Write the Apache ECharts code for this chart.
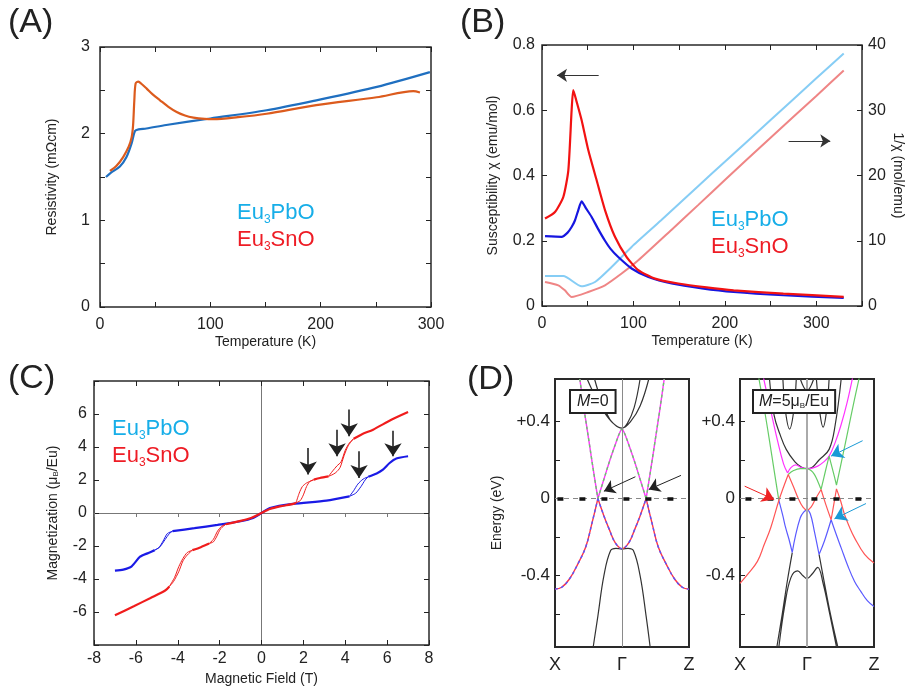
<!DOCTYPE html>
<html>
<head>
<meta charset="utf-8">
<script src="https://cdn.jsdelivr.net/npm/echarts@6.0.0/dist/echarts.min.js"></script>
<style>
  html, body { margin: 0; padding: 0; background: #fff; }
  #chart { width: 907px; height: 690px; }
</style>
</head>
<body>
<div id="chart"></div>
<script>
// ---- (A) resistivity ----
const rhoPbT = [5.4, 10, 18, 24, 28.7, 31.7, 35, 42, 60, 100, 151, 196, 251, 299];
const rhoPb = [1.50, 1.55, 1.62, 1.73, 1.89, 2.03, 2.05, 2.06, 2.10, 2.175, 2.27, 2.385, 2.54, 2.71];
const rhoSnT = [9, 15, 21, 26, 28.7, 30, 31.1, 32.3, 34.7, 38, 42.3, 48, 54.4, 62, 69.5, 77, 84.6, 95, 102.7, 125, 151, 196, 250.8, 284, 290];
const rhoSn = [1.57, 1.63, 1.73, 1.85, 1.96, 2.1, 2.38, 2.58, 2.60, 2.57, 2.52, 2.45, 2.385, 2.31, 2.25, 2.21, 2.186, 2.17, 2.167, 2.19, 2.23, 2.33, 2.42, 2.49, 2.475];

// ---- (B) susceptibility and 1/chi ----
const chiSnT = [3.3, 14.2, 23.3, 28.8, 32.4, 34.2, 38, 43.3, 50.6, 59.7, 68.9, 79.8, 92.6, 105.3, 123.6, 149, 180, 209.6, 264, 330];
const chiSn = [0.268, 0.288, 0.334, 0.416, 0.60, 0.662, 0.625, 0.57, 0.478, 0.386, 0.294, 0.212, 0.150, 0.11, 0.084, 0.069, 0.057, 0.048, 0.038, 0.028];
const chiPbT = [3.3, 21.4, 28, 32.4, 36, 39.7, 43.3, 48, 54.3, 61, 68.9, 75, 83.4, 98, 116.3, 141.8, 175, 209.6, 264, 330];
const chiPb = [0.214, 0.212, 0.225, 0.242, 0.262, 0.294, 0.321, 0.30, 0.273, 0.238, 0.2, 0.175, 0.15, 0.115, 0.089, 0.069, 0.054, 0.043, 0.033, 0.025];
const invPbT = [3.3, 23.3, 43.3, 58, 76.1, 98, 130, 171, 200, 250, 300, 330];
const invPb = [4.6, 4.6, 3.02, 3.68, 5.98, 9.05, 13.1, 18.4, 22.1, 28.5, 34.9, 38.7];
const invSnT = [3.3, 17.8, 25, 32.4, 50.6, 68.9, 87.1, 105.3, 141.8, 171, 200, 250, 300, 330];
const invSn = [3.68, 3.17, 2.4, 1.38, 2.15, 3.17, 4.97, 7.0, 11.7, 15.5, 19.3, 25.8, 32.2, 36.1];
const bArrowChi = [[62, 0.707], [16.4, 0.707]];
const bArrowInv = [[269.7, 25.3], [315.3, 25.3]];

// ---- (C) magnetization, [field, M] ----
const GAP = [null, null];
const pbMain = [
  [-7, -3.49], [-6.6, -3.43], [-6.2, -3.23], [-5.8, -2.65], [-5.4, -2.42], [-5.1, -2.25], GAP,
  [-4.25, -1.1], [-3.2, -0.92], [-2.1, -0.72], [-1.0, -0.5], [-0.4, -0.3], [0, 0],
  [0.4, 0.3], [1.5, 0.55], [3.1, 0.75], [4.2, 1.01], GAP,
  [5.1, 2.2], [5.5, 2.4], [5.8, 2.63], [6.12, 3.03], [6.44, 3.3], [7, 3.44]
];
const pbLoops = [
  [-5.1, -2.25], [-4.85, -2.05], [-4.6, -1.6], [-4.4, -1.25], [-4.25, -1.1],
  [-4.5, -1.25], [-4.7, -1.7], [-4.9, -2.1], [-5.1, -2.25], GAP,
  [4.2, 1.01], [4.4, 1.35], [4.6, 1.75], [4.85, 2.05], [5.1, 2.2],
  [4.95, 2.0], [4.75, 1.6], [4.5, 1.2], [4.2, 1.01]
];
const snMain = [
  [-7, -6.2], [-6.1, -5.65], [-5.3, -5.15], [-4.6, -4.7], [-4.4, -4.45], GAP,
  [-3.3, -2.25], [-2.9, -2.07], [-2.5, -1.85], GAP,
  [-1.7, -0.68], [-1.0, -0.48], [-0.5, -0.3], [0, 0],
  [0.4, 0.24], [0.88, 0.4], [1.52, 0.55], [1.65, 0.62], GAP,
  [2.5, 2.02], [2.79, 2.12], [3.2, 2.22], GAP,
  [4.4, 4.5], [4.8, 4.78], [5.33, 5.05], [6.2, 5.65], [7, 6.12]
];
const snLoops = [
  [-4.4, -4.45], [-4.15, -3.9], [-3.95, -3.25], [-3.75, -2.75], [-3.55, -2.4], [-3.3, -2.25],
  [-3.55, -2.55], [-3.75, -2.9], [-3.95, -3.55], [-4.2, -4.15], [-4.4, -4.45], GAP,
  [-2.5, -1.85], [-2.3, -1.6], [-2.1, -1.1], [-1.9, -0.8], [-1.7, -0.68],
  [-1.95, -0.95], [-2.15, -1.45], [-2.3, -1.75], [-2.5, -1.85], GAP,
  [1.65, 0.62], [1.8, 1.2], [1.95, 1.6], [2.15, 1.82], [2.5, 2.02],
  [2.3, 1.9], [2.15, 1.6], [2.0, 1.1], [1.85, 0.75], [1.65, 0.62], GAP,
  [3.2, 2.22], [3.4, 2.55], [3.6, 2.85], [3.8, 3.1], [4.0, 3.8], [4.2, 4.25], [4.4, 4.5],
  [4.15, 4.1], [3.95, 3.5], [3.75, 2.75], [3.55, 2.45], [3.35, 2.3], [3.2, 2.22]
];
const cArrowH = [2.23, 3.61, 4.19, 4.66, 6.28];
const cArrowTail = [3.94, 5.05, 6.27, 3.74, 4.99];
const cArrowHead = [2.33, 3.44, 4.65, 2.12, 3.44];

// ---- (D) bands, [k, E]  (X = -1, Gamma = 0, Z = 1) ----
const m0Upper = [
  [-0.63, 0.62], [-0.56, 0.45], [-0.49, 0.29], [-0.42, 0.13], [-0.36, 0], GAP,
  [-0.36, 0], [-0.27, 0.1], [-0.18, 0.2], [-0.09, 0.29], [-0.03, 0.345], [0, 0.36],
  [0.03, 0.345], [0.09, 0.29], [0.18, 0.2], [0.27, 0.1], [0.36, 0], GAP,
  [0.36, 0], [0.42, 0.13], [0.49, 0.29], [0.56, 0.45], [0.63, 0.62]
];
const m0Lower = [
  [-1, -0.47], [-0.9, -0.46], [-0.79, -0.42], [-0.66, -0.34], [-0.54, -0.25], [-0.45, -0.13], [-0.36, 0], GAP,
  [-0.36, 0], [-0.27, -0.09], [-0.19, -0.16], [-0.1, -0.23], [0, -0.26], [0.1, -0.23], [0.19, -0.16], [0.27, -0.09], [0.36, 0], GAP,
  [0.36, 0], [0.45, -0.13], [0.54, -0.25], [0.66, -0.34], [0.79, -0.42], [0.9, -0.46], [1, -0.47]
];
const m0Black = [
  [-0.52, 0.62], [-0.4, 0.53], [-0.27, 0.45], [-0.13, 0.39], [0, 0.365], [0.13, 0.4], [0.27, 0.48], [0.4, 0.62], GAP,
  [-0.41, 0.62], [-0.3, 0.5], [-0.18, 0.41], [-0.08, 0.375], [0, 0.365], [0.08, 0.39], [0.18, 0.47], [0.27, 0.62], GAP,
  [-0.43, -0.77], [-0.36, -0.61], [-0.27, -0.4], [-0.17, -0.27], [-0.09, -0.258], [0, -0.262],
  [0.09, -0.258], [0.17, -0.27], [0.27, -0.4], [0.36, -0.61], [0.42, -0.77]
];
const m0Arrows = [[[0.2, 0.113], [-0.27, 0.038]], [[0.88, 0.12], [0.4, 0.047]]];

const m5Red = [
  [-1, -0.44], [-0.89, -0.395], [-0.74, -0.326], [-0.64, -0.24], [-0.54, -0.15], [-0.42, -0.01], [-0.35, 0.06], [-0.28, 0.125], GAP,
  [-0.28, 0.125], [-0.2, 0.06], [-0.13, 0.0], [-0.06, -0.045], [0, -0.06], [0.06, -0.045], [0.13, 0.0], [0.21, 0.047], GAP,
  [0.21, 0.047], [0.28, -0.03], [0.36, -0.11], GAP,
  [0.36, -0.11], [0.4, -0.03], [0.44, 0.05], GAP,
  [0.44, 0.05], [0.5, -0.01], [0.56, -0.083], [0.63, -0.145], [0.71, -0.204], [0.86, -0.29], [1, -0.334]
];
const m5Blue = [
  [-0.42, -0.01], [-0.36, -0.09], [-0.32, -0.15], [-0.27, -0.21], [-0.22, -0.28], GAP,
  [-0.22, -0.28], [-0.17, -0.19], [-0.1, -0.1], [-0.05, -0.07], [0, -0.06], [0.05, -0.08], [0.11, -0.17], [0.18, -0.29], GAP,
  [0.18, -0.29], [0.26, -0.22], [0.36, -0.11], GAP,
  [0.36, -0.11], [0.43, -0.18], [0.51, -0.256], [0.61, -0.35], [0.71, -0.43], [0.8, -0.48], [0.9, -0.53], [1, -0.56]
];
const m5Green = [
  [-0.72, 0.627], [-0.63, 0.45], [-0.56, 0.3], [-0.49, 0.145], [-0.42, -0.01], GAP,
  [-0.28, 0.125], [-0.2, 0.145], [-0.1, 0.155], [0, 0.155], [0.06, 0.145], [0.11, 0.125], [0.16, 0.09], [0.21, 0.047], GAP,
  [0.21, 0.047], [0.27, 0.135], [0.33, 0.22], GAP,
  [0.33, 0.22], [0.39, 0.14], [0.44, 0.07], GAP,
  [0.44, 0.07], [0.52, 0.2], [0.61, 0.35], [0.7, 0.5], [0.78, 0.627]
];
const m5Pink = [
  [-0.65, 0.627], [-0.55, 0.47], [-0.44, 0.3], [-0.35, 0.18], [-0.29, 0.133], GAP,
  [-0.29, 0.133], [-0.24, 0.16], [-0.17, 0.175], [-0.08, 0.16], [0, 0.155], [0.08, 0.158], [0.16, 0.168],
  [0.25, 0.19], [0.33, 0.22], [0.42, 0.29], [0.51, 0.384], [0.6, 0.5], [0.68, 0.627]
];
const m5Black = [
  [-0.56, 0.62], [-0.49, 0.43], [-0.4, 0.33], [-0.31, 0.255], [-0.18, 0.19], [-0.08, 0.162], [0, 0.155],
  [0.08, 0.162], [0.18, 0.2], [0.33, 0.255], [0.42, 0.38], [0.51, 0.62], GAP,
  [-0.36, 0.62], [-0.32, 0.45], [-0.26, 0.36], [-0.2, 0.45], [-0.16, 0.62], GAP,
  [0.14, 0.62], [0.19, 0.45], [0.24, 0.37], [0.29, 0.45], [0.33, 0.62], GAP,
  [-0.1, 0.62], [0, 0.56], [0.1, 0.62], GAP,
  [-0.42, -0.77], [-0.33, -0.55], [-0.24, -0.41], [-0.14, -0.375], [-0.06, -0.4], [0, -0.415],
  [0.08, -0.39], [0.16, -0.357], [0.24, -0.44], [0.34, -0.6], [0.44, -0.77], GAP,
  [-0.22, -0.28], [-0.29, -0.42], [-0.37, -0.6], [-0.45, -0.77], GAP,
  [0.18, -0.29], [0.25, -0.42], [0.35, -0.6], [0.46, -0.77]
];
const m5RedArrow = [[[-0.93, 0.064], [-0.49, -0.005]]];
const m5BlueArrows = [[[0.83, 0.30], [0.36, 0.22]], [[0.88, -0.026], [0.41, -0.105]]];

const kLabels = { '-1': 'X', '0': 'Γ', '1': 'Z' };

const FONT = 'Liberation Sans, Arial, Helvetica, sans-serif';
const INK = '#222';
const CYAN = '#17aee8';
const RED = '#ee1c25';

const zip = (a, b) => a.map((v, i) => [v, b[i]]);

function mkAxis(o) {
  return {
    type: 'value', gridIndex: o.grid, position: o.pos, min: o.min, max: o.max, interval: o.interval,
    offset: o.offset || 0,
    name: o.name || '', nameLocation: 'middle', nameGap: o.nameGap, nameRotate: o.nameRotate,
    nameTextStyle: { color: INK, fontSize: 14, fontFamily: FONT, rich: o.rich },
    axisLine: { show: !!o.line, onZero: false, lineStyle: { color: o.line || INK, width: 1 } },
    axisTick: {
      show: o.tick !== false, inside: !o.tickOut, length: o.tickLen || 5,
      lineStyle: { color: o.tickColor || INK, width: 1 }, customValues: o.tickValues
    },
    axisLabel: {
      show: !!o.label, color: INK, fontSize: o.fontSize || 16, fontFamily: FONT, margin: o.margin || 8,
      formatter: o.label, customValues: o.labelValues, showMinLabel: true, showMaxLabel: true
    },
    splitLine: { show: false }
  };
}

function line(data, xi, yi, color, width, extra) {
  return Object.assign({
    type: 'line', data: data, xAxisIndex: xi, yAxisIndex: yi,
    showSymbol: false, symbol: 'none', smooth: 0.3, connectNulls: false, silent: true,
    lineStyle: { color: color, width: width }
  }, extra || {});
}

function arrows(pairs, color, width, size) {
  return {
    silent: true, symbol: ['none', 'arrow'], symbolSize: size, label: { show: false },
    lineStyle: { color: color, width: width, type: 'solid' }, animation: false,
    data: pairs.map(p => [{ coord: p[0] }, { coord: p[1] }])
  };
}

function legendText(left, top, name) {
  return [
    { type: 'text', left: left, top: top, z: 100,
      style: { text: '{a|Eu}{s|3}{a|' + name[0] + '}', rich: {
        a: { fontSize: 22, fontFamily: FONT, fill: CYAN, color: CYAN, lineHeight: 26 },
        s: { fontSize: 12, fontFamily: FONT, fill: CYAN, color: CYAN, lineHeight: 12, verticalAlign: 'bottom' } } } },
    { type: 'text', left: left, top: top + 27, z: 100,
      style: { text: '{a|Eu}{s|3}{a|' + name[1] + '}', rich: {
        a: { fontSize: 22, fontFamily: FONT, fill: RED, color: RED, lineHeight: 26 },
        s: { fontSize: 12, fontFamily: FONT, fill: RED, color: RED, lineHeight: 12, verticalAlign: 'bottom' } } } }
  ];
}

const hundreds = v => (v % 100 === 0 ? String(v) : '');
const integers = v => (Number.isInteger(v) ? String(v) : '');
const eLabel = v => (v > 0 ? '+0.4' : (v < 0 ? '-0.4' : '0'));
const kLabel = v => kLabels[String(Math.round(v))] || '';
const dTicks = [-0.6, -0.4, -0.2, 0, 0.2, 0.4];

const frame = (left, top, width, height, bw) => ({
  left: left, top: top, width: width, height: height, show: true,
  borderColor: '#2a2a2a', borderWidth: bw, backgroundColor: 'transparent'
});

const chart = echarts.init(document.getElementById('chart'));

const option = {
  animation: false,
  backgroundColor: '#fff',
  grid: [
    frame(100, 47, 331, 260, 1.5),
    frame(542, 45, 320, 261, 1.5),
    frame(94, 381, 335, 264, 1.5),
    frame(555, 379, 134, 268, 2),
    frame(740, 379, 134, 268, 2)
  ],
  xAxis: [
    mkAxis({ grid: 0, pos: 'bottom', min: 0, max: 300, interval: 50, label: hundreds, margin: 10, name: 'Temperature (K)', nameGap: 28 }),
    mkAxis({ grid: 0, pos: 'top', min: 0, max: 300, interval: 50 }),
    mkAxis({ grid: 1, pos: 'bottom', min: 0, max: 350, interval: 50, label: hundreds, margin: 10, name: 'Temperature (K)', nameGap: 28 }),
    mkAxis({ grid: 1, pos: 'top', min: 0, max: 350, interval: 50 }),
    mkAxis({ grid: 2, pos: 'bottom', min: -8, max: 8, interval: 2, label: v => String(v), margin: 6, name: 'Magnetic Field (T)', nameGap: 27 }),
    mkAxis({ grid: 2, pos: 'top', min: -8, max: 8, interval: 2 }),
    mkAxis({ grid: 2, pos: 'bottom', min: -8, max: 8, interval: 2, offset: -132, line: '#777', tickOut: true, tickLen: 4, tickColor: '#777' }),
    mkAxis({ grid: 3, pos: 'bottom', min: -1, max: 1, tick: false, label: kLabel, labelValues: [-1, 0, 1], fontSize: 18, margin: 9 }),
    mkAxis({ grid: 4, pos: 'bottom', min: -1, max: 1, tick: false, label: kLabel, labelValues: [-1, 0, 1], fontSize: 18, margin: 9 })
  ],
  yAxis: [
    mkAxis({ grid: 0, pos: 'left', min: 0, max: 3, interval: 0.5, label: integers, margin: 10, name: 'Resistivity (mΩcm)', nameGap: 41, nameRotate: 90 }),
    mkAxis({ grid: 0, pos: 'right', min: 0, max: 3, interval: 0.5 }),
    mkAxis({ grid: 1, pos: 'left', min: 0, max: 0.8, interval: 0.2, label: v => (v === 0 ? '0' : v.toFixed(1)), margin: 7, name: 'Susceptibility χ (emu/mol)', nameGap: 42, nameRotate: 90 }),
    mkAxis({ grid: 1, pos: 'right', min: 0, max: 40, interval: 10, label: v => String(v), margin: 6, name: '1/χ (mol/emu)', nameGap: 29, nameRotate: -90 }),
    mkAxis({ grid: 2, pos: 'left', min: -8, max: 8, interval: 2, label: v => (Math.abs(v) === 8 ? '' : String(v)), margin: 7,
      name: '{a|Magnetization (μ}{s|B}{a|/Eu)}', nameGap: 34, nameRotate: 90,
      rich: { a: { fontSize: 14, fontFamily: FONT, color: INK }, s: { fontSize: 8, fontFamily: FONT, color: INK, verticalAlign: 'bottom' } } }),
    mkAxis({ grid: 2, pos: 'right', min: -8, max: 8, interval: 2 }),
    mkAxis({ grid: 2, pos: 'left', min: -8, max: 8, interval: 2, offset: -167.5, line: '#777', tick: false }),
    mkAxis({ grid: 3, pos: 'left', min: -0.77, max: 0.62, tickValues: dTicks, label: eLabel, labelValues: [-0.4, 0, 0.4], fontSize: 17, margin: 5, name: 'Energy (eV)', nameGap: 51, nameRotate: 90 }),
    mkAxis({ grid: 4, pos: 'left', min: -0.77, max: 0.62, tickValues: dTicks, label: eLabel, labelValues: [-0.4, 0, 0.4], fontSize: 17, margin: 5 })
  ],
  series: [
    // (A)
    line(zip(rhoPbT, rhoPb), 0, 0, '#1f6fc0', 2.2),
    line(zip(rhoSnT, rhoSn), 0, 0, '#dc5b1d', 2.2),
    // (B)
    line(zip(invPbT, invPb), 2, 3, '#86cdf5', 2, { smooth: 0.2, markLine: arrows([bArrowInv], '#333', 1, 10) }),
    line(zip(invSnT, invSn), 2, 3, '#ef8585', 2, { smooth: 0.2 }),
    line(zip(chiPbT, chiPb), 2, 2, '#1616e0', 2.2, { smooth: 0.2, markLine: arrows([bArrowChi], '#333', 1, 10) }),
    line(zip(chiSnT, chiSn), 2, 2, '#f21212', 2.2, { smooth: 0.2 }),
    // (C)
    line(pbMain, 4, 4, '#1a1ae6', 2.2, { smooth: 0.25 }),
    line(pbLoops, 4, 4, '#1a1ae6', 1, { smooth: 0.25 }),
    line(snMain, 4, 4, '#f01c1c', 2.2, { smooth: 0.25,
      markLine: arrows(cArrowH.map((h, i) => [[h, cArrowTail[i]], [h, cArrowHead[i]]]), '#222', 1.6, 13) }),
    line(snLoops, 4, 4, '#f01c1c', 1, { smooth: 0.25 }),
    // (D) M = 0
    line(m0Black, 7, 7, '#333', 1.2, { smooth: 0.4,
      markLine: {
        silent: true, symbol: 'none', label: { show: false }, animation: false,
        data: [
          { xAxis: 0, lineStyle: { color: '#8a8a8a', width: 1, type: 'solid' } },
          { yAxis: 0, lineStyle: { color: '#888', width: 1, type: [5, 4] } },
          { yAxis: 0, lineStyle: { color: '#111', width: 3.5, type: [6, 16], dashOffset: 19.6 } }
        ]
      } }),
    line(m0Upper, 7, 7, '#ff33ff', 1.4, { smooth: 0.4 }),
    line(m0Upper, 7, 7, '#66cc66', 1.4, { smooth: 0.4, lineStyle: { color: '#66cc66', width: 1.4, type: [3, 3] } }),
    line(m0Lower, 7, 7, '#ff3344', 1.4, { smooth: 0.4 }),
    line(m0Lower, 7, 7, '#5555ff', 1.4, { smooth: 0.4, lineStyle: { color: '#5555ff', width: 1.4, type: [3, 3] },
      markLine: arrows(m0Arrows, '#222', 1, 11) }),
    // (D) M = 5 muB/Eu
    line(m5Black, 8, 8, '#333', 1.2, { smooth: 0.4,
      markLine: {
        silent: true, symbol: 'none', label: { show: false }, animation: false,
        data: [
          { xAxis: 0, lineStyle: { color: '#aaa', width: 2, type: 'solid' } },
          { yAxis: 0, lineStyle: { color: '#888', width: 1, type: [5, 4] } },
          { yAxis: 0, lineStyle: { color: '#111', width: 3.5, type: [6, 16], dashOffset: 16.6 } }
        ]
      } }),
    line(m5Pink, 8, 8, '#ff33ff', 1.2, { smooth: 0.4 }),
    line(m5Green, 8, 8, '#66cc66', 1.2, { smooth: 0.4 }),
    line(m5Blue, 8, 8, '#5a5aff', 1.2, { smooth: 0.4, markLine: arrows(m5BlueArrows, '#1a9ad6', 1, 12) }),
    line(m5Red, 8, 8, '#ff5555', 1.2, { smooth: 0.4, markLine: arrows(m5RedArrow, '#ee2222', 1, 12) })
  ],
  graphic: [
    { type: 'text', left: 8, top: 6, style: { text: '(A)', fontSize: 34, fontFamily: FONT, fill: INK } },
    { type: 'text', left: 460, top: 6, style: { text: '(B)', fontSize: 34, fontFamily: FONT, fill: INK } },
    { type: 'text', left: 8, top: 362, style: { text: '(C)', fontSize: 34, fontFamily: FONT, fill: INK } },
    { type: 'text', left: 467, top: 363, style: { text: '(D)', fontSize: 34, fontFamily: FONT, fill: INK } },
    ...legendText(237, 202, ['PbO', 'SnO']),
    ...legendText(711, 209, ['PbO', 'SnO']),
    ...legendText(112, 418, ['PbO', 'SnO']),
    { type: 'text', left: 569, top: 389, z: 100,
      style: { text: '{i|M}{n|=0}', padding: [3, 6, 2, 6], borderColor: '#222', borderWidth: 2, backgroundColor: '#fff',
        rich: { i: { fontSize: 16, fontFamily: FONT, fontStyle: 'italic', fill: INK, color: INK },
                n: { fontSize: 16, fontFamily: FONT, fill: INK, color: INK } } } },
    { type: 'text', left: 752, top: 389, z: 100,
      style: { text: '{i|M}{n|=5μ}{s|B}{n|/Eu}', padding: [3, 5, 2, 5], borderColor: '#222', borderWidth: 2, backgroundColor: '#fff',
        rich: { i: { fontSize: 16, fontFamily: FONT, fontStyle: 'italic', fill: INK, color: INK },
                n: { fontSize: 16, fontFamily: FONT, fill: INK, color: INK },
                s: { fontSize: 8, fontFamily: FONT, fill: INK, color: INK, verticalAlign: 'bottom' } } } }
  ]
};

chart.setOption(option);
</script>
</body>
</html>
